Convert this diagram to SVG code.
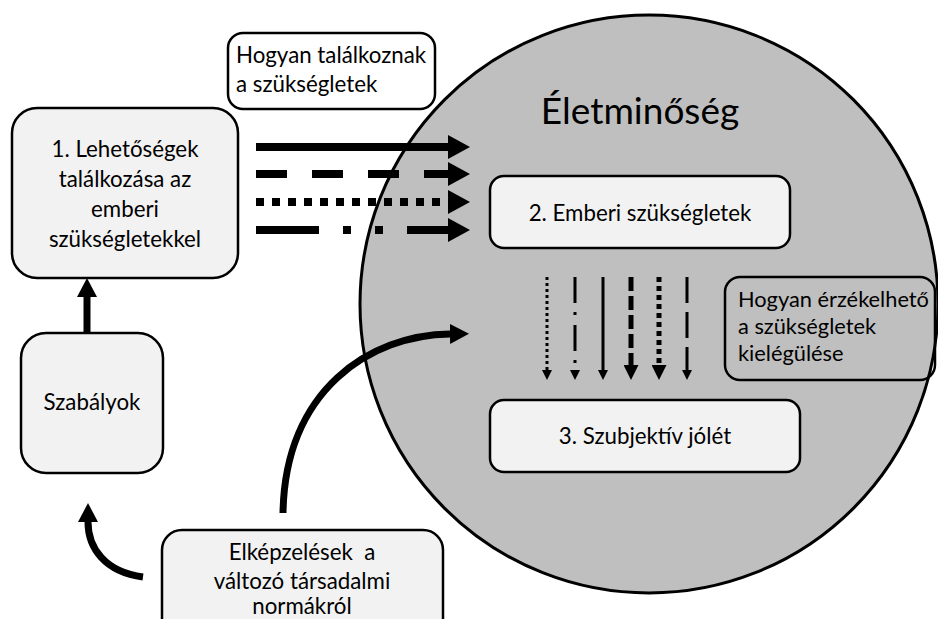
<svg xmlns="http://www.w3.org/2000/svg" width="938" height="619" viewBox="0 0 938 619">
<style>
.box{fill:#f2f2f2;stroke:#000;stroke-width:2.5}
.lbl{fill:#fff;stroke:#000;stroke-width:2.5}
.tr{fill:none;stroke:#000;stroke-width:2.5}
text{font-family:Lato,"Open Sans","Liberation Sans",sans-serif;font-size:22.3px;fill:#000}
.c{text-anchor:middle}
.h{fill:none;stroke:#000;stroke-width:8}
.v{fill:none;stroke:#000}
</style>
<defs>
<marker id="mH" markerUnits="userSpaceOnUse" viewBox="0 0 22 24" markerWidth="22" markerHeight="24" refX="0" refY="12" orient="auto"><path d="M0,0 L22,12 L0,24 Z"/></marker>
<marker id="mM" markerUnits="userSpaceOnUse" viewBox="0 0 19 20" markerWidth="19" markerHeight="20" refX="0" refY="10" orient="auto"><path d="M0,0 L19,10 L0,20 Z"/></marker>
<marker id="mS" markerUnits="userSpaceOnUse" viewBox="0 0 10 10" markerWidth="10" markerHeight="10" refX="0" refY="5" orient="auto"><path d="M0,0 L10,5 L0,10 Z"/></marker>
<marker id="mB" markerUnits="userSpaceOnUse" viewBox="0 0 15 15" markerWidth="15" markerHeight="15" refX="0" refY="7.5" orient="auto"><path d="M0,0 L15,7.5 L0,15 Z"/></marker>
</defs>

<g id="eletminoseg">
<circle cx="649" cy="304" r="289" fill="#bfbfbf" stroke="#000" stroke-width="3"/>
<text x="640" y="124" class="c" style="font-size:37px">Életminőség</text>
</g>

<g id="connectors">
<path class="h" d="M256,147 H448" marker-end="url(#mH)"/>
<path class="h" d="M256,174 H448" stroke-dasharray="31 25" marker-end="url(#mH)"/>
<path class="h" d="M256,202 H448" stroke-dasharray="8 8" marker-end="url(#mH)"/>
<path class="h" d="M256,230 H448" stroke-dasharray="63 24 8 24 8 24" marker-end="url(#mH)"/>
<path class="v" stroke-width="3" d="M547,277 V370" stroke-dasharray="3 3" marker-end="url(#mS)"/>
<path class="v" stroke-width="3" d="M575,277 V370" stroke-dasharray="26 9 3 10" marker-end="url(#mS)"/>
<path class="v" stroke-width="3" d="M603,277 V370" marker-end="url(#mS)"/>
<path class="v" stroke-width="5" d="M631,277 V365" stroke-dasharray="14 5" marker-end="url(#mB)"/>
<path class="v" stroke-width="5" d="M659,277 V365" stroke-dasharray="5 4" marker-end="url(#mB)"/>
<path class="v" stroke-width="3" d="M687,277 V370" stroke-dasharray="26 9" marker-end="url(#mS)"/>
<path class="v" stroke-width="7" d="M87,332 V297" marker-end="url(#mM)"/>
<path class="v" stroke-width="7" d="M143,577 C105,572 88,548 88,522" marker-end="url(#mM)"/>
<path class="v" stroke-width="7" d="M283,513 C285,390 370,335 450,334" marker-end="url(#mM)"/>
</g>

<g id="hogyan-talalkoznak">
<rect class="lbl" x="228" y="33" width="207" height="76" rx="15"/>
<text x="236" y="63">Hogyan találkoznak</text>
<text x="236" y="92">a szükségletek</text>
</g>

<g id="lehetosegek">
<rect class="box" x="12" y="108" width="226" height="170" rx="25"/>
<text x="125" y="157" class="c">1. Lehetőségek</text>
<text x="125" y="187" class="c">találkozása az</text>
<text x="125" y="217" class="c">emberi</text>
<text x="125" y="247" class="c">szükségletekkel</text>
</g>

<g id="szabalyok">
<rect class="box" x="21" y="333" width="142" height="140" rx="25"/>
<text x="92" y="410" class="c">Szabályok</text>
</g>

<g id="elkepzelesek">
<rect class="box" x="162" y="530" width="281" height="110" rx="20"/>
<text x="302" y="560" class="c" xml:space="preserve">Elképzelések  a</text>
<text x="302" y="589" class="c">változó társadalmi</text>
<text x="302" y="614" class="c">normákról</text>
</g>

<g id="emberi-szuksegletek">
<rect class="box" x="490" y="176" width="300" height="72" rx="14"/>
<text x="640" y="221" class="c">2. Emberi szükségletek</text>
</g>

<g id="hogyan-erzekelheto">
<rect class="tr" x="725" y="277" width="210" height="103" rx="15"/>
<text x="738" y="307" style="font-size:21.8px">Hogyan érzékelhető</text>
<text x="738" y="334" style="font-size:21.8px">a szükségletek</text>
<text x="738" y="361" style="font-size:21.8px">kielégülése</text>
</g>

<g id="szubjektiv-jolet">
<rect class="box" x="490" y="400" width="310" height="72" rx="14"/>
<text x="645" y="444" class="c">3. Szubjektív jólét</text>
</g>
</svg>
